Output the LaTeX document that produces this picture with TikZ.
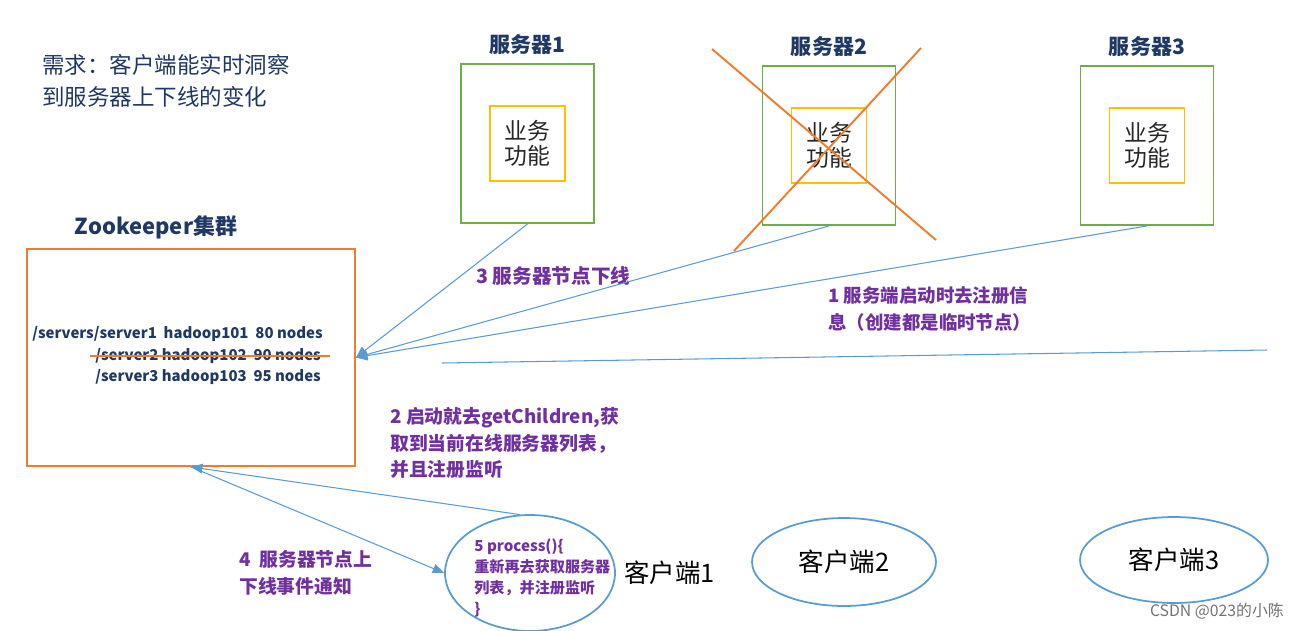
\documentclass[tikz,border=0pt]{standalone}
\usepackage{fontspec}
\setmainfont{Noto Sans CJK SC}
\usepackage{tikz}
\usetikzlibrary{shapes.geometric, arrows.meta, positioning, calc}
\usepackage{xcolor}
\definecolor{navy}{RGB}{31,56,100}
\definecolor{srvgreen}{RGB}{112,173,71}
\definecolor{funcyellow}{RGB}{255,192,0}
\definecolor{zkorange}{RGB}{237,125,49}
\definecolor{linkblue}{RGB}{91,155,213}
\definecolor{notepurple}{RGB}{112,48,160}

\begin{document}
\begin{tikzpicture}[
    x=0.02cm, y=-0.02cm,
    server/.style={rectangle, draw=srvgreen, line width=1.1pt, minimum width=2.66cm, minimum height=3.18cm, inner sep=0pt},
    func/.style={rectangle, draw=funcyellow, line width=1.1pt, minimum width=1.5cm, minimum height=1.5cm, align=center, inner sep=0pt, font=\fontsize{13}{14.5}\selectfont, text=black!85},
    title/.style={inner sep=0pt, text=navy, font=\bfseries\fontsize{12}{14}\selectfont},
    zkline/.style={anchor=west, inner sep=0pt, text=navy, font=\bfseries\fontsize{8.5}{11}\selectfont},
    note/.style={anchor=west, align=left, inner sep=0pt, text=notepurple, font=\bfseries\fontsize{10.7}{15}\selectfont},
    client/.style={ellipse, draw=linkblue, line width=1pt, inner sep=0pt, font=\fontsize{14.5}{16}\selectfont},
    arrow/.style={-{Triangle[length=6.5pt, width=5.5pt]}, draw=linkblue, line width=0.6pt},
    cross/.style={draw=zkorange, line width=1.1pt}
]
\useasboundingbox (0,0) rectangle (1298,630);

\node[anchor=west, align=left, inner sep=0pt, text=navy, font=\fontsize{12.8}{18}\selectfont] (goal) at (42,81)
    {需求：客户端能实时洞察\\到服务器上下线的变化};

\node[server] (s1) at (527.5,143.5) {};
\node[server] (s2) at (829,145.5) {};
\node[server] (s3) at (1147,145.5) {};
\node[func] (f1) at (s1.center) {业务\\功能};
\node[func] (f2) at (s2.center) {业务\\功能};
\node[func] (f3) at (s3.center) {业务\\功能};
\node[title, above=0.17cm of s1] (t1) {服务器1};
\node[title, above=0.17cm of s2] (t2) {服务器2};
\node[title, above=0.17cm of s3] (t3) {服务器3};
\draw[cross] (712,49) -- (936,240);
\draw[cross] (921,48) -- (734,251);

\node[rectangle, draw=zkorange, line width=1.1pt, minimum width=6.56cm, minimum height=4.34cm, inner sep=0pt] (zk) at (191,357.5) {};
\node[inner sep=0pt, text=navy, font=\bfseries\fontsize{12.5}{14}\selectfont] (zktitle) at (156,227) {Zookeeper集群};
\node[zkline] (zk1) at (32,334) {/servers/server1\ \ hadoop101\ \ 80 nodes};
\node[zkline] (zk2) at (95,356) {/server2 hadoop102\ \ 90 nodes};
\node[zkline] (zk3) at (95,377) {/server3 hadoop103\ \ 95 nodes};
\draw[cross] ([xshift=-3pt]zk2.west) -- ([xshift=5pt]zk2.east);

\node[note, font=\bfseries\fontsize{11.2}{15}\selectfont] (n3) at (476,276) {3 服务器节点下线};
\node[note, font=\bfseries\fontsize{10.5}{15}\selectfont] (n1) at (828,309) {1 服务端启动时去注册信\\息（创建都是临时节点）};
\node[note] (n2) at (390,443) {2 启动就去getChildren,获\\取到当前在线服务器列表，\\并且注册监听};
\node[note] (n4) at (239,573) {4\ \ 服务器节点上\\下线事件通知};

\node[client, minimum width=3.4cm, minimum height=2.32cm] (c1) at (530,573) {};
\node[note, font=\bfseries\fontsize{8.6}{11.8}\selectfont] (proc) at (474,578) {5 process()\{\\重新再去获取服务器\\列表，并注册监听\\\}};
\node[anchor=west, inner sep=0pt, font=\fontsize{14.5}{16}\selectfont] (c1name) at (624,573) {客户端1};
\node[client, minimum width=3.68cm, minimum height=1.76cm] (c2) at (844,562) {客户端2};
\node[client, minimum width=3.76cm, minimum height=1.72cm] (c3) at (1174,560) {客户端3};

\draw[arrow] (s1.south) -- (zk.east);
\draw[arrow] (s2.south) -- (zk.east);
\draw[arrow] (s3.south) -- (zk.east);
\coordinate (h1) at (442,363);
\coordinate (h2) at (1267,350);
\draw[draw=linkblue, line width=0.6pt] (h1) -- (h2);
\draw[arrow] (c1.100) -- (zk.south);
\draw[arrow] (zk.south) -- (c1.west);

\node[anchor=east, inner sep=0pt, text=black!55, font=\fontsize{9}{11}\selectfont] (mark) at (1284,611) {CSDN @023的小陈};
\end{tikzpicture}
\end{document}
